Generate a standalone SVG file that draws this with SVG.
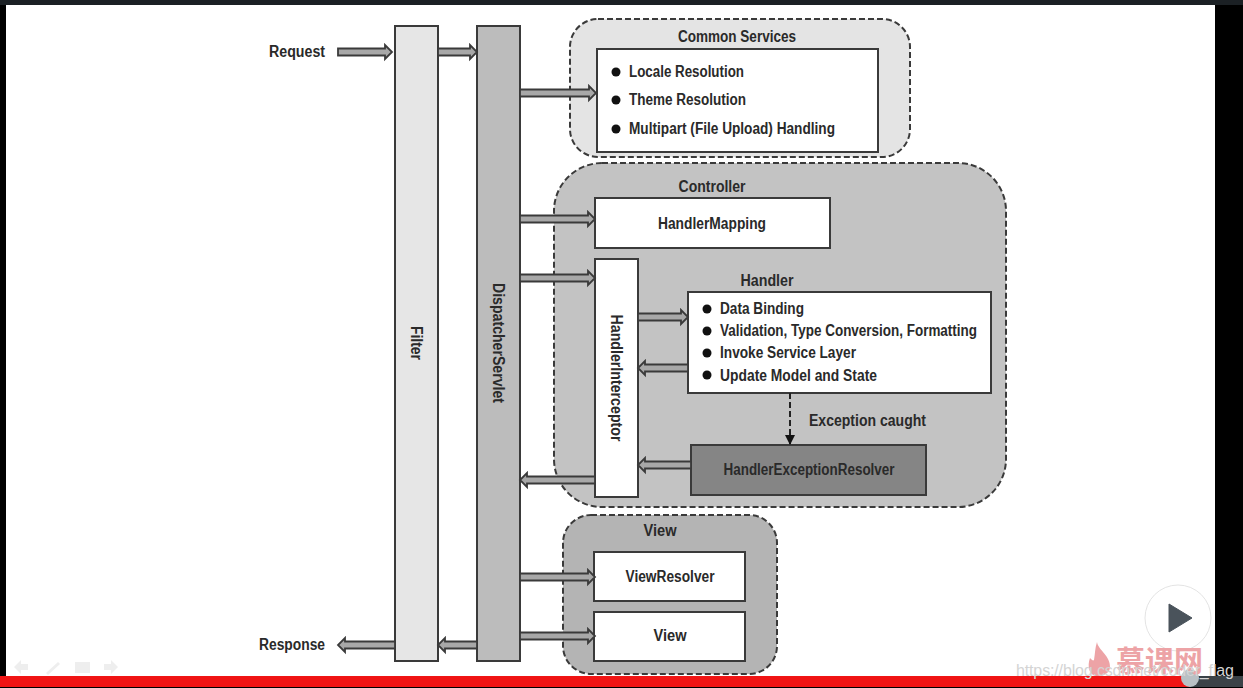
<svg xmlns="http://www.w3.org/2000/svg" width="1243" height="688" viewBox="0 0 1243 688">
<style>
text{font-family:"Liberation Sans",Arial,sans-serif;font-weight:700;font-size:16px;fill:#2a2a2a}
.c{text-anchor:middle}
.box{stroke:#3a3a3a;stroke-width:2}
.w{fill:#fff}
.grp{stroke:#3a3a3a;stroke-width:2;stroke-dasharray:6 3}
.a{fill:#a8a8a8;stroke:#3a3a3a;stroke-width:1.8;stroke-linejoin:miter}
.b{fill:#111}
</style>
<defs><marker id="tip" markerWidth="12" markerHeight="10" refX="9" refY="5" orient="auto" markerUnits="userSpaceOnUse"><path d="M0 0L10 5L0 10Z" fill="#111"/></marker></defs>
<rect width="1243" height="688" fill="#000"/>
<rect x="6" y="5" width="1209" height="671" fill="#fff"/>
<rect x="0" y="0" width="1243" height="5" fill="#1b2024"/>

<g id="common-services">
<rect class="grp" x="570" y="19" width="340" height="138" rx="28" fill="#e4e4e4"/>
<text class="c" x="737" y="42" textLength="118" lengthAdjust="spacingAndGlyphs">Common Services</text>
<rect class="box w" x="597" y="49" width="281" height="103"/>
<circle class="b" cx="616" cy="72" r="4.500"/><text x="629" y="77" textLength="115" lengthAdjust="spacingAndGlyphs">Locale Resolution</text>
<circle class="b" cx="616" cy="100" r="4.500"/><text x="629" y="105" textLength="117" lengthAdjust="spacingAndGlyphs">Theme Resolution</text>
<circle class="b" cx="616" cy="129" r="4.500"/><text x="629" y="134" textLength="206" lengthAdjust="spacingAndGlyphs">Multipart (File Upload) Handling</text>
</g>
<g id="controller">
<rect class="grp" x="554" y="163" width="452" height="344" rx="48" fill="#c3c3c3"/>
<text class="c" x="712" y="192" textLength="67" lengthAdjust="spacingAndGlyphs">Controller</text>
<text class="c" x="767" y="286" textLength="53" lengthAdjust="spacingAndGlyphs">Handler</text>
<text x="809" y="426" textLength="117" lengthAdjust="spacingAndGlyphs">Exception caught</text>
</g>
<g id="handler-mapping">
<rect class="box w" x="595" y="198" width="235" height="50"/>
<text class="c" x="712" y="229" textLength="108" lengthAdjust="spacingAndGlyphs">HandlerMapping</text>
</g>
<g id="handler-interceptor">
<rect class="box w" x="595" y="259" width="43" height="238"/>
<text class="c" transform="translate(611 378) rotate(90)" textLength="127" lengthAdjust="spacingAndGlyphs">HandlerInterceptor</text>
</g>
<g id="handler">
<rect class="box w" x="688" y="292" width="303" height="101"/>
<circle class="b" cx="707" cy="309" r="4.500"/><text x="720" y="314" textLength="84" lengthAdjust="spacingAndGlyphs">Data Binding</text>
<circle class="b" cx="707" cy="331" r="4.500"/><text x="720" y="336" textLength="257" lengthAdjust="spacingAndGlyphs">Validation, Type Conversion, Formatting</text>
<circle class="b" cx="707" cy="353" r="4.500"/><text x="720" y="358" textLength="136" lengthAdjust="spacingAndGlyphs">Invoke Service Layer</text>
<circle class="b" cx="707" cy="375" r="4.500"/><text x="720" y="381" textLength="157" lengthAdjust="spacingAndGlyphs">Update Model and State</text>
</g>
<g id="handler-exception-resolver">
<rect class="box" x="691" y="445" width="235" height="50" fill="#858585"/>
<text class="c" x="809" y="475" textLength="171" lengthAdjust="spacingAndGlyphs">HandlerExceptionResolver</text>
</g>
<g id="view-group">
<rect class="grp" x="563" y="515" width="214" height="159" rx="28" fill="#b4b4b4"/>
<text class="c" x="660" y="536" textLength="33" lengthAdjust="spacingAndGlyphs">View</text>
</g>
<g id="view-resolver">
<rect class="box w" x="594" y="552" width="151" height="49"/>
<text class="c" x="670" y="582" textLength="89" lengthAdjust="spacingAndGlyphs">ViewResolver</text>
</g>
<g id="view">
<rect class="box w" x="594" y="612" width="151" height="49"/>
<text class="c" x="670" y="641" textLength="33" lengthAdjust="spacingAndGlyphs">View</text>
</g>
<g id="filter">
<rect class="box" x="395" y="26" width="43" height="635" fill="#e6e6e6"/>
<text class="c" transform="translate(411 343) rotate(90)" textLength="34" lengthAdjust="spacingAndGlyphs">Filter</text>
</g>
<g id="dispatcher-servlet">
<rect class="box" x="477" y="26" width="43" height="635" fill="#bcbcbc"/>
<text class="c" transform="translate(493 343) rotate(90)" textLength="120" lengthAdjust="spacingAndGlyphs">DispatcherServlet</text>
</g>
<g id="request"><text x="269" y="57" textLength="56" lengthAdjust="spacingAndGlyphs">Request</text></g>
<g id="response"><text x="259" y="650" textLength="66" lengthAdjust="spacingAndGlyphs">Response</text></g>

<g id="connectors">
<path class="a" d="M338 48.500H385V45L392 52L385 59V55.500H338Z"/>
<path class="a" d="M438 48.500H470V45L477 52L470 59V55.500H438Z"/>
<path class="a" d="M520 89.500H589V86L596 93L589 100V96.500H520Z"/>
<path class="a" d="M520 215.500H588V212L595 219L588 226V222.500H520Z"/>
<path class="a" d="M520 274.500H588V271L595 278L588 285V281.500H520Z"/>
<path class="a" d="M638 313.500H681V310L688 317L681 324V320.500H638Z"/>
<path class="a" d="M688 364.500H645V361L638 368L645 375V371.500H688Z"/>
<path class="a" d="M691 461.500H645V458L638 465L645 472V468.500H691Z"/>
<path class="a" d="M595 476.500H527V473L520 480L527 487V483.500H595Z"/>
<path class="a" d="M520 573.500H588V570L595 577L588 584V580.500H520Z"/>
<path class="a" d="M520 632.500H588V629L595 636L588 643V639.500H520Z"/>
<path class="a" d="M477 641.500H445V638L438 645L445 652V648.500H477Z"/>
<path class="a" d="M395 641.500H345V638L338 645L345 652V648.500H395Z"/>
<path d="M790 393V444" fill="none" stroke="#222" stroke-width="2" stroke-dasharray="6 3" marker-end="url(#tip)"/>
</g>

<rect x="0" y="676" width="1190" height="11" fill="#f01414"/>
<rect x="1190" y="676" width="53" height="11" fill="#3b4247"/>
<circle cx="1190" cy="678" r="9" fill="#b9c0c4"/>
<circle cx="1178" cy="618" r="33" fill="#fff" stroke="#e4e4e4"/>
<path d="M1169 604L1192 618L1169 632Z" fill="#4a535b" stroke="#4a535b" stroke-linejoin="round"/>
<g fill="#eee"><path d="M14 667L21 660V664H28V670H21V674Z"/><path d="M46 673L58 662L60 664L48 675Z"/><rect x="75" y="662" width="15" height="11"/><path d="M118 667L111 660V664H104V670H111V674Z"/></g>
<path d="M1097 642C1098 650 1111 656 1110 668C1109 675 1100 676 1096 676C1089 675 1087 666 1090 658C1092 660 1093 661 1094 660C1095 654 1095 648 1097 642Z" fill="#eda3a6"/>
<text x="1116" y="672" style="font-family:'Noto Sans CJK SC',sans-serif;font-size:29px;fill:#eda3a6;font-weight:700">慕课网</text>
<text x="1016" y="676" style="font-weight:400;font-size:16px;fill:#d4d4d4" textLength="218">https://blog.csdn.net/coder_flag</text>
</svg>
